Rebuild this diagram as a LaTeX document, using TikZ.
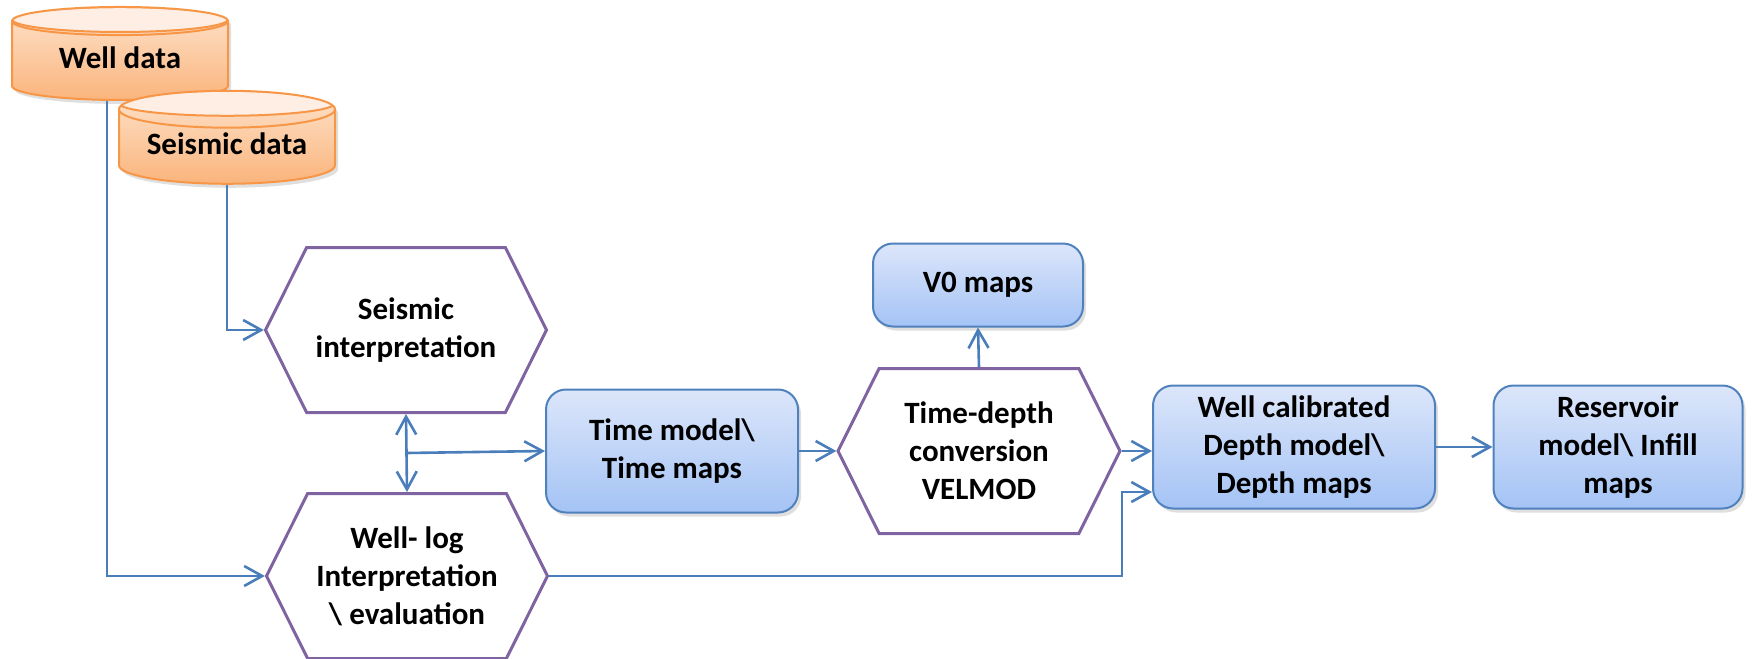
\documentclass[tikz,border=0pt]{standalone}
\usepackage{fontspec}
\setmainfont{Carlito}
\usepackage{tikz}
\usetikzlibrary{
    positioning,
    shapes.geometric,
    shapes.symbols,
    arrows.meta,
    calc,
    shadows
}
\usepackage{xcolor}
\definecolor{lineblue}{HTML}{4A7EBB}
\definecolor{boxedge}{HTML}{4F81BD}
\definecolor{boxtop}{HTML}{DCE6FA}
\definecolor{boxbot}{HTML}{A4C3F5}
\definecolor{hexedge}{HTML}{8064A2}
\definecolor{cyledge}{HTML}{F79646}
\definecolor{cyltop}{HTML}{FEE3CC}
\definecolor{cylbot}{HTML}{FAB47C}
\definecolor{cylcap}{HTML}{FEEEE3}

\begin{document}
\begin{tikzpicture}[x=0.5pt,y=-0.5pt,
  font=\fontsize{15.5}{19}\selectfont\bfseries,
  >={Straight Barb[length=9pt,width=10pt]},
  datastore/.style={cylinder, shape border rotate=90, aspect=0.23,
    draw=cyledge, line width=1pt, top color=cyltop, bottom color=cylbot,
    minimum width=108pt, minimum height=46.5pt, inner sep=0pt, text depth=3pt,
    drop shadow={shadow xshift=1.5pt, shadow yshift=-2pt, opacity=0.25},
    path picture={\fill[cylcap, draw=cyledge, line width=1pt]
      ([yshift=-6.25pt]path picture bounding box.north) ellipse (54pt and 6.25pt);}},
  process/.style={signal, signal to=east and west, signal pointer angle=127,
    draw=hexedge, line width=1.5pt, fill=white, align=center,
    minimum width=140.5pt, minimum height=82.5pt, inner sep=0pt},
  result/.style={rectangle, rounded corners=10pt, draw=boxedge, line width=1pt,
    top color=boxtop, bottom color=boxbot, align=center, inner sep=2pt,
    minimum height=61.5pt,
    drop shadow={shadow xshift=1.5pt, shadow yshift=-2pt, opacity=0.25}},
  flow/.style={draw=lineblue, line width=1.3pt, ->}]
\useasboundingbox (0,0) rectangle (1752,659);

\node[datastore] (well) at (120,61) {Well data};
\node[datastore] (seis) at (227,147) {Seismic data};

\node[process] (sint) at (406,330) {Seismic\\interpretation};
\node[process] (wlog) at (407,576) {Well- log\\Interpretation\\\textbackslash{} evaluation};
\node[result, minimum width=126pt] (tmod) at (672,451) {Time model\textbackslash\\Time maps};
\node[process, minimum width=141pt] (tdc) at (979,451) {Time-depth\\conversion\\VELMOD};
\node[result, minimum width=105pt, minimum height=41.5pt] (vzero) at (978,285) {V0 maps};
\node[result, minimum width=141pt] (wcal) at (1294,447) {Well calibrated\\Depth model\textbackslash\\Depth maps};
\node[result, minimum width=124.5pt] (resv) at (1618,447) {Reservoir\\model\textbackslash{} Infill\\maps};

\coordinate (split) at ($(sint.south)!0.5!(wlog.north)$);
\draw[flow] ([xshift=-6.5pt]well.south) |- (wlog.west);
\draw[flow] (seis.south) |- (sint.west);
\draw[flow, <->] (sint.south) -- (wlog.north);
\draw[flow] (split) -- (tmod.west);
\draw[flow] (tmod.east) -- (tdc.west);
\draw[flow] (tdc.north) -- (vzero.south);
\draw[flow] (tdc.east) -- (tdc.east -| wcal.west);
\draw[flow] (wlog.east) -| ([xshift=-15pt,yshift=-22.5pt]wcal.west) -- ([yshift=-22.5pt]wcal.west);
\draw[flow] (wcal.east) -- (resv.west);
\end{tikzpicture}
\end{document}
